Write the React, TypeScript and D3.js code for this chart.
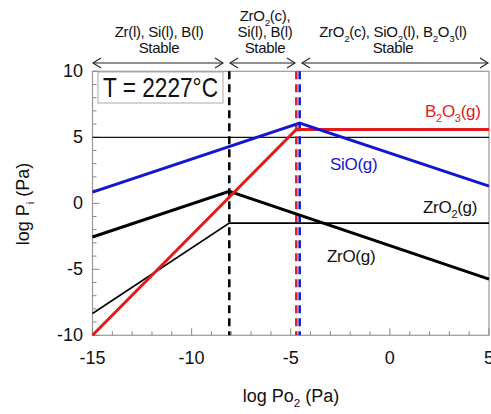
import React from "react";
import * as d3 from "d3";

const xTicks = [-15, -10, -5, 0, 5];
const yTicks = [-10, -5, 0, 5, 10];

const sioX = [-15, -4.55, 5];
const sioY = [0.85, 6.07, 1.3];
const b2o3X = [-15, -4.72, 5];
const b2o3Y = [-10, 5.6, 5.6];
const zroX = [-15, -8.1, 5];
const zroY = [-2.55, 0.9, -5.75];
const zro2X = [-15, -8.1, 5];
const zro2Y = [-8.35, -1.5, -1.5];
const oneAtm = 5;
const boundaries = [
  { x: -8.1, color: "#000" },
  { x: -4.72, color: "#e31a1c" },
  { x: -4.55, color: "#1515d0" },
];

const W = 491;
const H = 414;
const FONT = "'Liberation Sans', Arial, Helvetica, sans-serif";

export default function App() {
  const x = d3.scaleLinear().domain([-15, 5]).range([92.5, 489]);
  const y = d3.scaleLinear().domain([-10, 10]).range([335.3, 71.3]);
  const line = d3
    .line<[number, number]>()
    .x((d) => x(d[0]))
    .y((d) => y(d[1]));
  const pts = (xs: number[], ys: number[]) =>
    xs.map((v, i) => [v, ys[i]] as [number, number]);

  const minorX = d3.range(-15, 5.01, 1);
  const minorY = d3.range(-10, 10.01, 1);
  const [x0, x1] = x.range();
  const yTop = y(10);
  const yBot = y(-10);

  const arrow = (a: number, b: number, yy: number) => (
    <g stroke="#222" strokeWidth={1.1} fill="none">
      <line x1={a} x2={b} y1={yy} y2={yy} />
      <polyline points={`${a + 8},${yy - 5} ${a},${yy} ${a + 8},${yy + 5}`} />
      <polyline points={`${b - 8},${yy - 5} ${b},${yy} ${b - 8},${yy + 5}`} />
    </g>
  );

  // subscript helper: shift down then back up by the same pixel amount
  const sub = (t: string, size: number) => [
    <tspan key={"s" + t} fontSize={size * 0.65} dy={size * 0.3}>
      {t}
    </tspan>,
  ];
  const back = (t: string, size: number) => (
    <tspan dy={-size * 0.3}>{t}</tspan>
  );

  return (
    <svg
      width={W}
      height={H}
      style={{ position: "absolute", left: 0, top: 0, background: "#fff" }}
      fontFamily={FONT}
    >
      {/* top annotations */}
      <g fontSize={15} textAnchor="middle" fill="#111" letterSpacing={-0.3}>
        <text x={159} y={37}>Zr(l), Si(l), B(l)</text>
        <text x={159} y={53}>Stable</text>
        <text x={265} y={21}>
          ZrO{sub("2", 15)}
          {back("(c),", 15)}
        </text>
        <text x={265} y={37}>Si(l), B(l)</text>
        <text x={265} y={53}>Stable</text>
        <text x={393} y={37}>
          ZrO{sub("2", 15)}
          {back("(c), SiO", 15)}
          {sub("2", 15)}
          {back("(l), B", 15)}
          {sub("2", 15)}
          {back("O", 15)}
          {sub("3", 15)}
          {back("(l)", 15)}
        </text>
        <text x={393} y={53}>Stable</text>
      </g>
      {arrow(93, 223, 63)}
      {arrow(230, 295, 63)}
      {arrow(302, 488, 63)}

      {/* frame */}
      <rect
        x={x0}
        y={yTop}
        width={x1 - x0}
        height={yBot - yTop}
        fill="none"
        stroke="#999"
        strokeWidth={1.2}
      />
      {/* ticks */}
      <g stroke="#888" strokeWidth={1}>
        {minorX.map((v) => (
          <line
            key={"tx" + v}
            x1={x(v)}
            x2={x(v)}
            y1={yBot}
            y2={yBot - (v % 5 === 0 ? 7 : 4)}
          />
        ))}
        {minorY.map((v) => (
          <line
            key={"ty" + v}
            x1={x0}
            x2={x0 + (v % 5 === 0 ? 7 : 4)}
            y1={y(v)}
            y2={y(v)}
          />
        ))}
      </g>
      <g fontSize={18} fill="#111">
        {xTicks.map((v) => (
          <text key={"lx" + v} x={x(v)} y={364} textAnchor="middle">
            {v}
          </text>
        ))}
        {yTicks.map((v) => (
          <text key={"ly" + v} x={83} y={y(v) + 6} textAnchor="end">
            {v}
          </text>
        ))}
      </g>

      {/* 1 atm line */}
      <line
        x1={x0}
        x2={x1}
        y1={y(oneAtm)}
        y2={y(oneAtm)}
        stroke="#111"
        strokeWidth={1.2}
      />

      {/* legend box */}
      <rect x={98} y={72} width={125} height={31} fill="#fff" stroke="#aaa" strokeWidth={1} />
      <text
        x={103}
        y={96.5}
        fontSize={28}
        fill="#111"
        textLength={115}
        lengthAdjust="spacingAndGlyphs"
      >
        T = 2227°C
      </text>

      {/* dashed boundaries */}
      {boundaries.map((b, i) => (
        <line
          key={"b" + i}
          x1={x(b.x)}
          x2={x(b.x)}
          y1={yTop}
          y2={yBot}
          stroke={b.color}
          strokeWidth={2.5}
          strokeDasharray="8,5"
        />
      ))}

      {/* series */}
      <path d={line(pts(zro2X, zro2Y)) || ""} fill="none" stroke="#000" strokeWidth={1.6} />
      <path d={line(pts(zroX, zroY)) || ""} fill="none" stroke="#000" strokeWidth={3} />
      <path d={line(pts(b2o3X, b2o3Y)) || ""} fill="none" stroke="#e31a1c" strokeWidth={3} />
      <path d={line(pts(sioX, sioY)) || ""} fill="none" stroke="#1515d0" strokeWidth={3} />

      {/* series labels */}
      <g fontSize={17} letterSpacing={-0.3}>
        <text x={425} y={117} fill="#e31a1c">
          B{sub("2", 17)}
          {back("O", 17)}
          {sub("3", 17)}
          {back("(g)", 17)}
        </text>
        <text x={330} y={170} fill="#1515d0">SiO(g)</text>
        <text x={423} y={213} fill="#111">
          ZrO{sub("2", 17)}
          {back("(g)", 17)}
        </text>
        <text x={327} y={262} fill="#111">ZrO(g)</text>
      </g>

      {/* axis titles */}
      <text
        transform={`translate(29,204) rotate(-90)`}
        textAnchor="middle"
        fontSize={18}
        fill="#111"
      >
        log P{sub("i", 18)}
        {back(" (Pa)", 18)}
      </text>
      <text x={291} y={402} textAnchor="middle" fontSize={18} fill="#111">
        log Po{sub("2", 18)}
        {back(" (Pa)", 18)}
      </text>
    </svg>
  );
}
